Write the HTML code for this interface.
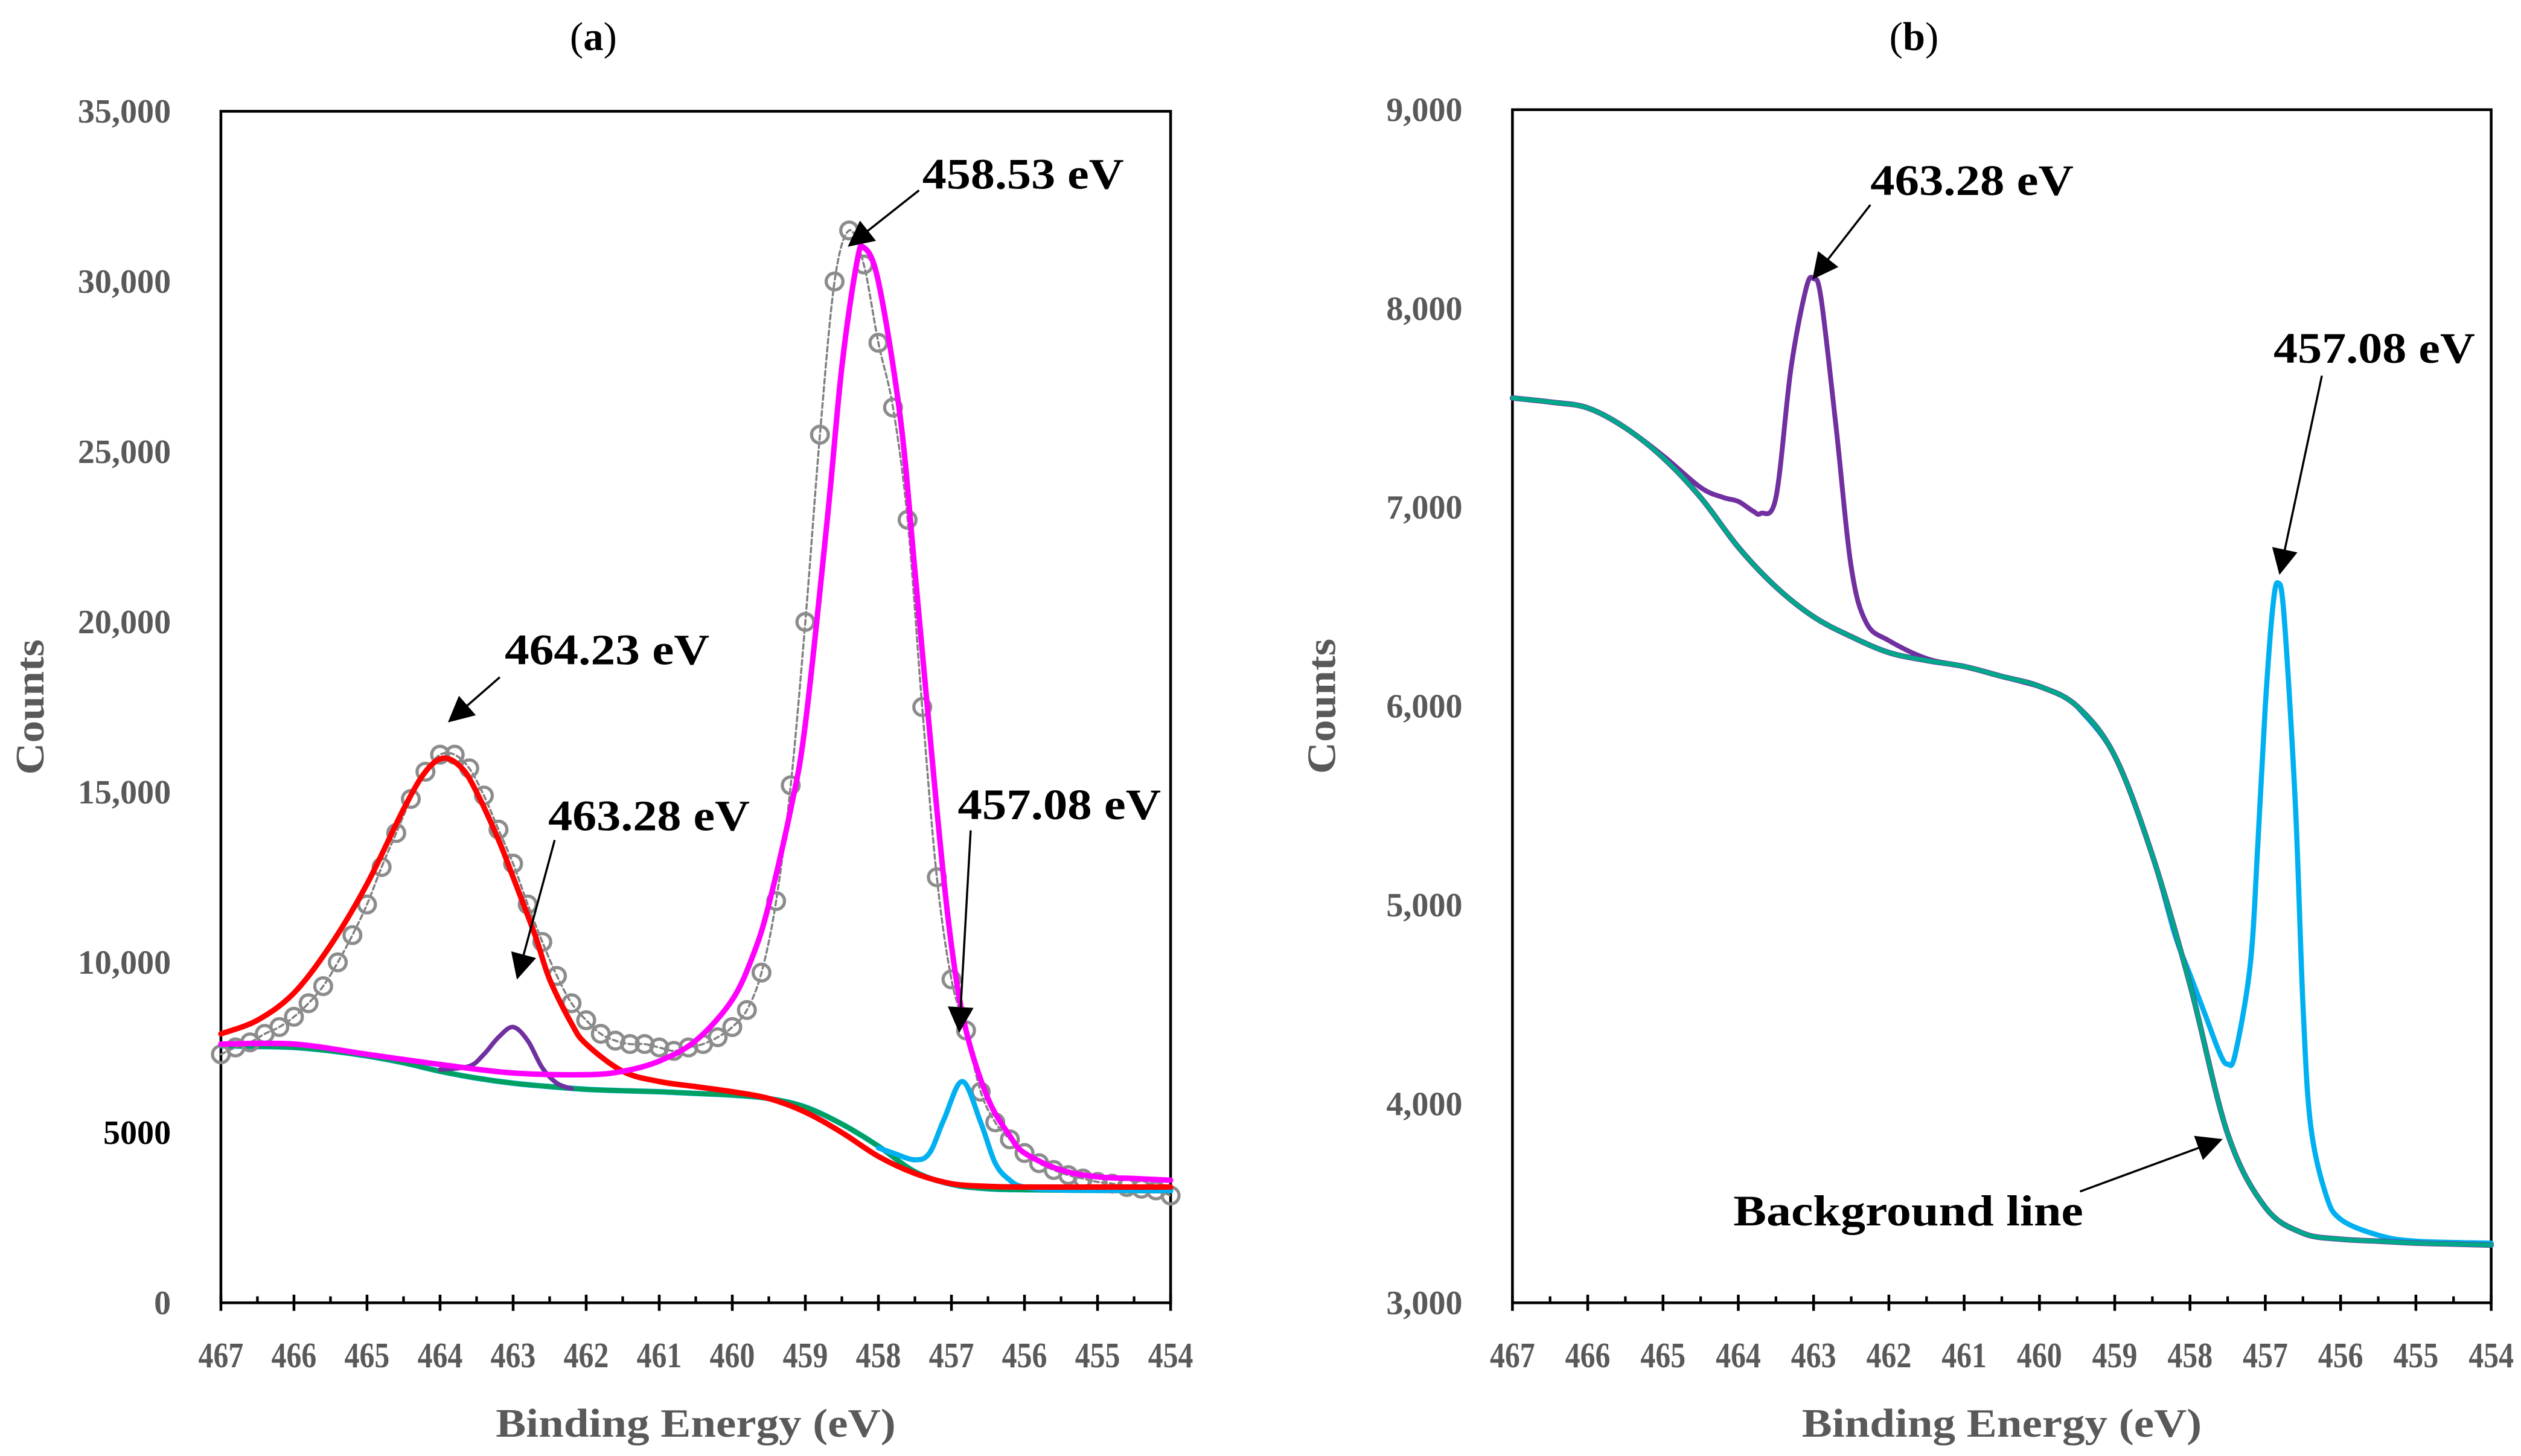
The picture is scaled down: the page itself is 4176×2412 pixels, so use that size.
<!DOCTYPE html>
<html><head><meta charset="utf-8"><style>
html,body{margin:0;padding:0;background:#fff;}
svg{display:block;}
text{font-family:"Liberation Serif",serif;}
</style></head><body>
<svg id="fig" width="4176" height="2412" viewBox="0 0 1563.5 903" xmlns="http://www.w3.org/2000/svg">
<defs>
<marker id="ahb" viewBox="0 0 10 10" refX="9" refY="5" markerWidth="20" markerHeight="16" orient="auto" markerUnits="userSpaceOnUse"><path d="M0,0 L10,5 L0,10 z" fill="#000"/></marker>
</defs>
<g id="pa"></g>
<g id="pb"></g>
</svg>
<script>
// ---- Panel (a) data ----
const expEv = [467.0,466.8,466.6,466.4,466.2,466.0,465.8,465.6,465.4,465.2,465.0,464.8,464.6,464.4,464.2,464.0,463.8,463.6,463.4,463.2,463.0,462.8,462.6,462.4,462.2,462.0,461.8,461.6,461.4,461.2,461.0,460.8,460.6,460.4,460.2,460.0,459.8,459.6,459.4,459.2,459.0,458.8,458.6,458.4,458.2,458.0,457.8,457.6,457.4,457.2,457.0,456.8,456.6,456.4,456.2,456.0,455.8,455.6,455.4,455.2,455.0,454.8,454.6,454.4,454.2,454.0];
const expCounts = [7300,7500,7650,7900,8100,8400,8800,9300,10000,10800,11700,12800,13800,14800,15600,16100,16100,15700,14900,13900,12900,11700,10600,9600,8800,8300,7900,7700,7600,7600,7500,7400,7500,7600,7800,8100,8600,9700,11800,15200,20000,25500,30000,31500,30500,28200,26300,23000,17500,12500,9500,8000,6200,5300,4800,4400,4100,3900,3750,3650,3550,3500,3400,3350,3300,3150];
const bgEv = [467,466.5,466,465.5,465,464.5,464,463.5,463,462.5,462,461.5,461,460.5,460,459.5,459,458.5,458,457.5,457,456.5,456,455.5,455,454.5,454];
const bgCounts = [7550,7530,7500,7400,7250,7050,6800,6600,6450,6350,6270,6230,6200,6150,6100,6000,5750,5250,4600,3850,3480,3350,3320,3310,3300,3295,3290];
const redEv = [467,466.5,466,465.5,465,464.5,464.2,463.95,463.7,463.5,463.2,463,462.7,462.5,462.2,462,461.5,461,460.5,460,459.5,459,458.5,458,457.5,457,456.5,456,455,454];
const redCounts = [7900,8300,9100,10500,12300,14500,15600,16000,15700,15000,13600,12500,10800,9500,8200,7600,6800,6500,6350,6200,6000,5600,5000,4300,3800,3500,3420,3400,3400,3400];
const magEv = [467,466,465,464,463,462,461.5,461,460.5,460,459.7,459.5,459.2,459,458.7,458.5,458.3,458.2,458,457.7,457.5,457.2,457,456.8,456.5,456.2,456,455.5,455,454.5,454];
const magCounts = [7600,7600,7300,7000,6750,6700,6800,7100,7700,8900,10300,11700,14500,17000,23000,27500,30500,31000,30000,26000,21500,14500,10500,8000,6000,4900,4400,3900,3700,3650,3600];
const purAEv = [464.0,463.6,463.4,463.2,463.0,462.8,462.6,462.4,462.2];
const purACounts = [6850,6950,7300,7800,8100,7700,6900,6450,6290];
const cyanAEv = [458.0,457.8,457.5,457.3,457.1,456.85,456.6,456.4,456.2,456.0,455.5,454];
const cyanACounts = [4550,4400,4200,4400,5400,6500,5300,4100,3600,3400,3320,3300];
// ---- Panel (b) data ----
const purBEv = [467,466.5,466,465.5,465,464.5,464.2,464,463.8,463.7,463.5,463.3,463.1,463.0,462.9,462.7,462.5,462.3,462,461.5,461,460.5,460];
const purBCounts = [7550,7530,7500,7400,7260,7100,7050,7030,6980,6970,7050,7700,8100,8150,8050,7400,6700,6420,6330,6240,6200,6150,6100];
const cyanBEv = [459.5,459,458.5,458.2,458,457.8,457.6,457.5,457.4,457.2,457.1,457.0,456.9,456.83,456.75,456.6,456.5,456.4,456.2,456,455.5,455,454];
const cyanBCounts = [6000,5750,5250,4850,4650,4450,4250,4200,4250,4700,5300,6000,6500,6620,6450,5500,4500,3900,3550,3420,3340,3310,3300];
const xTicks = [467,466,465,464,463,462,461,460,459,458,457,456,455,454];
const yTicksA = [0,5000,10000,15000,20000,25000,30000,35000];
const yLabelsA = ["0","5000","10,000","15,000","20,000","25,000","30,000","35,000"];
const yTicksB = [3000,4000,5000,6000,7000,8000,9000];
const yLabelsB = ["3,000","4,000","5,000","6,000","7,000","8,000","9,000"];

const NS="http://www.w3.org/2000/svg";
function mk(parent,tag,attrs,txt){const e=document.createElementNS(NS,tag);for(const k in attrs)e.setAttribute(k,attrs[k]);if(txt!==undefined)e.textContent=txt;parent.appendChild(e);return e;}
function scales(L,R,T,B,ymin,ymax){return{x:v=>L+(467-v)/13*(R-L),y:v=>B-(v-ymin)/(ymax-ymin)*(B-T)};}
function smoothPath(P){
  let d="M"+P[0][0].toFixed(2)+","+P[0][1].toFixed(2);
  for(let i=0;i<P.length-1;i++){
    const p0=P[i-1]||P[i],p1=P[i],p2=P[i+1],p3=P[i+2]||P[i+1];
    const c1=[p1[0]+(p2[0]-p0[0])/6,p1[1]+(p2[1]-p0[1])/6];
    const c2=[p2[0]-(p3[0]-p1[0])/6,p2[1]-(p3[1]-p1[1])/6];
    d+=" C"+c1[0].toFixed(2)+","+c1[1].toFixed(2)+" "+c2[0].toFixed(2)+","+c2[1].toFixed(2)+" "+p2[0].toFixed(2)+","+p2[1].toFixed(2);
  }
  return d;
}
function line(g,sx,sy,xs,ys,color,w,name){
  const P=xs.map((v,i)=>[sx(v),sy(ys[i])]);
  const p=mk(g,"path",{d:smoothPath(P),fill:"none",stroke:color,"stroke-width":w,"stroke-linejoin":"round","stroke-linecap":"round"});
  
  
  return p;
}
function axes(g,L,R,T,B,yt,yl,sy,title,tx,blackIdx){
  const f=mk(g,"rect",{x:L,y:T,width:R-L,height:B-T,fill:"none",stroke:"#000","stroke-width":1.7});
  
  
  const sx=v=>L+(467-v)/13*(R-L);
  for(let i=0;i<13;i++){const xm=sx(466.5-i);mk(g,"line",{x1:xm,x2:xm,y1:B,y2:B-4,stroke:"#000","stroke-width":1.6});}
  xTicks.forEach(v=>{
    const x=sx(v);
    mk(g,"line",{x1:x,x2:x,y1:B-5,y2:B+5,stroke:"#000","stroke-width":1.7});
    const t=mk(g,"text",{x:x,y:B+40,"text-anchor":"middle","font-size":22,"font-weight":"bold",fill:"#595959",textLength:28,lengthAdjust:"spacingAndGlyphs"},String(v));
    
    
  });
  yt.forEach((v,i)=>{
    const t=mk(g,"text",{x:L-31,y:sy(v)+7,"text-anchor":"end","font-size":21,"font-weight":"bold",fill:(i===blackIdx?"#000":"#595959")},yl[i]);
    
    
  });
  const xt=mk(g,"text",{x:(L+R)/2,y:B+83,"text-anchor":"middle","font-size":25,"font-weight":"bold",fill:"#595959",textLength:248,lengthAdjust:"spacingAndGlyphs"},"Binding Energy (eV)");
  
  
  const yy=(T+B)/2, yx=L-110;
  const ytl=mk(g,"text",{x:yx,y:yy,"text-anchor":"middle","font-size":25,"font-weight":"bold",fill:"#595959",textLength:84,lengthAdjust:"spacingAndGlyphs",transform:"rotate(-90 "+yx+" "+yy+")"},"Counts");
  
  
  const tt=mk(g,"text",{x:tx,y:31,"text-anchor":"middle","font-size":25,fill:"#000"},"");
  mk(tt,"tspan",{},"(");mk(tt,"tspan",{"font-weight":"bold"},title);mk(tt,"tspan",{},")");
  
  
}
function note(g,txt,x,y,w,ax1,ay1,ax2,ay2,name){
  const t=mk(g,"text",{x:x,y:y,"font-size":27,"font-weight":"bold",fill:"#000",textLength:w,lengthAdjust:"spacingAndGlyphs"},txt);
  
  
  const a=mk(g,"line",{x1:ax1,y1:ay1,x2:ax2,y2:ay2,stroke:"#000","stroke-width":1.3,"marker-end":"url(#ahb)"});
  
  
}
// Panel a
(function(){
  const g=document.getElementById("pa");
  const L=137,R=726,T=69,B=808;
  const s=scales(L,R,T,B,0,35000);
  axes(g,L,R,T,B,yTicksA,yLabelsA,s.y,"a",368,1);
  line(g,s.x,s.y,bgEv,bgCounts,"#00b0f0",3.4,"background-cyan-a");
  line(g,s.x,s.y,bgEv,bgCounts,"#00a060",3,"background-line-a");
  const dl=line(g,s.x,s.y,expEv,expCounts,"#808080",1.3,"experimental-dashed-line");
  dl.setAttribute("stroke-dasharray","3,2");
  expEv.forEach((v,i)=>{
    const c=mk(g,"circle",{cx:s.x(v),cy:s.y(expCounts[i]),r:5.2,fill:"none",stroke:"#8c8c8c","stroke-width":2});
    
    
  });
  line(g,s.x,s.y,purAEv,purACounts,"#7030a0",2.8,"peak-463-28-a");
  line(g,s.x,s.y,cyanAEv,cyanACounts,"#00b0f0",3.2,"peak-457-08-a");
  line(g,s.x,s.y,redEv,redCounts,"#ff0000",3.4,"peak-464-23");
  line(g,s.x,s.y,magEv,magCounts,"#ff00ff",3.4,"peak-458-53");
  note(g,"458.53 eV",572,117,125,570,118,527,152,"label-458-53");
  note(g,"464.23 eV",313,412,127,310,420,279,447,"label-464-23-a");
  note(g,"463.28 eV",340,515,125,344,521,321,606,"label-463-28-a");
  note(g,"457.08 eV",594,508,126,602,515,595,639,"label-457-08-a");
})();
// Panel b
(function(){
  const g=document.getElementById("pb");
  const L=938,R=1545,T=68,B=808;
  const s=scales(L,R,T,B,3000,9000);
  axes(g,L,R,T,B,yTicksB,yLabelsB,s.y,"b",1187,-1);
  line(g,s.x,s.y,purBEv,purBCounts,"#7030a0",3,"peak-463-28-b");
  line(g,s.x,s.y,cyanBEv,cyanBCounts,"#00b0f0",3.2,"peak-457-08-b");
  line(g,s.x,s.y,bgEv,bgCounts,"#7030a0",3.4,"background-purple-b");
  line(g,s.x,s.y,bgEv,bgCounts,"#00a88a",2.8,"background-line-b");
  note(g,"463.28 eV",1160,121,126,1160,127,1125,172,"label-463-28-b");
  note(g,"457.08 eV",1410,225,125,1440,233,1414,355,"label-457-08-b");
  note(g,"Background line",1075,760,217,1290,739,1377,707,"label-background-line");
})();
</script>
</body></html>
